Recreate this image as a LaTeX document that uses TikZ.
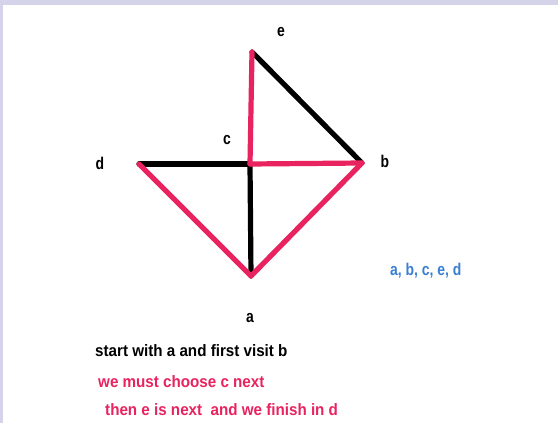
\documentclass[tikz,border=0pt]{standalone}
\usepackage{fontspec}
\setmainfont{Liberation Sans}
\newfontfamily\narrowsans[FakeStretch=0.82]{Liberation Sans}
\newfontfamily\notesans[FakeStretch=0.92]{Liberation Sans}
\usetikzlibrary{positioning}
\definecolor{PathPink}{HTML}{E8235F}
\definecolor{SeqBlue}{HTML}{3A80D2}
\definecolor{FrameLav}{HTML}{D4D3EA}

\begin{document}
\begin{tikzpicture}[
    x=1pt, y=-1pt,
    edge/.style={
      line width=5.2pt,
      line cap=round,
      line join=round
    },
    tour/.style={
      edge,
      color=PathPink
    },
    plain/.style={
      edge,
      color=black
    },
    vlabel/.style={
      font=\narrowsans\bfseries\fontsize{17}{19}\selectfont,
      inner sep=0pt
    },
    note/.style={
      font=\notesans\bfseries\fontsize{16.5}{18}\selectfont,
      anchor=west,
      inner sep=0pt
    }
  ]

  % frame
  \fill[FrameLav] (0,0) rectangle (558,423);
  \fill[white] (3,5) rectangle (558,423);
  \useasboundingbox (0,0) rectangle (558,423);

  % vertices
  \coordinate (a) at (251,276);
  \coordinate (b) at (362,163);
  \coordinate (c) at (250,164);
  \coordinate (d) at (139,164);
  \coordinate (e) at (252,52);

  % edges not on the tour
  \draw[plain] (c) -- (d);
  \draw[plain] (c) -- (a);
  \draw[plain] (e) -- (b);

  % tour a, b, c, e, d
  \draw[tour] (a) -- (b);
  \draw[tour] (b) -- (c);
  \draw[tour] (c) -- (e);
  \draw[tour] (a) -- (d);

  % vertex labels
  \node[vlabel] (la) at (250,318) {a};
  \node[vlabel] (lb) at (385,161) {b};
  \node[vlabel] (lc) at (227,140) {c};
  \node[vlabel] (ld) at (100,163) {d};
  \node[vlabel] (le) at (281,32)  {e};

  % order of visits
  \node[note, color=SeqBlue, font=\narrowsans\bfseries\fontsize{17}{19}\selectfont]
    (order) at (390,271) {a, b, c, e, d};

  % explanation
  \node[note] (step1) at (95,351) {start with a and first visit b};
  \node[note, color=PathPink] (step2) at (98,382) {we must choose c next};
  \node[note, color=PathPink] (step3) at (105,410) {then e is next\ \ and we finish in d};

\end{tikzpicture}
\end{document}
